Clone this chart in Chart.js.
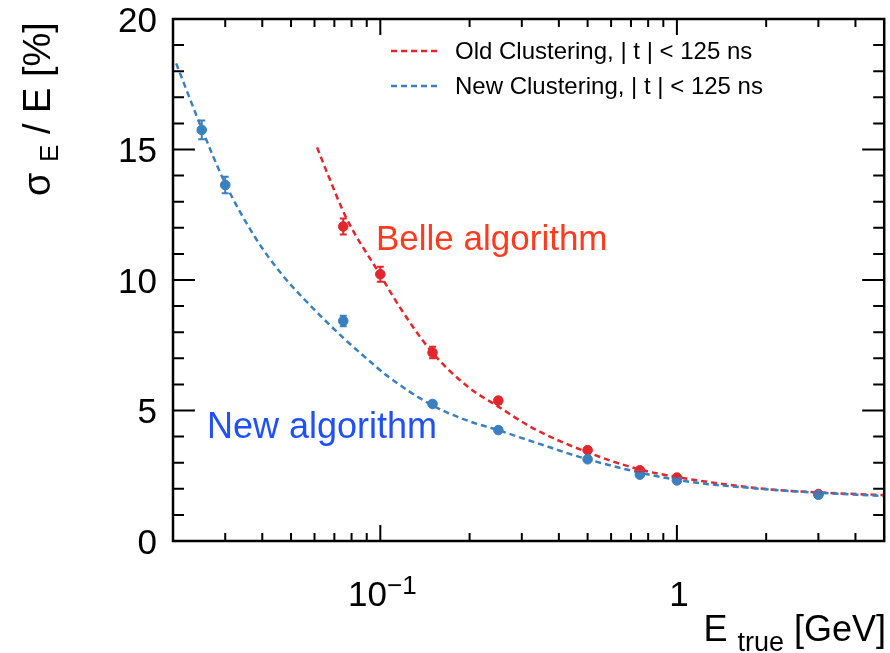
<!DOCTYPE html>
<html><head><meta charset="utf-8">
<script src="https://cdn.jsdelivr.net/npm/chart.js@4.4.1/dist/chart.umd.min.js"></script>
<style>html,body{margin:0;padding:0;background:#fff}#wrap{width:890px;height:653px;position:relative}</style>
</head><body>
<div id="wrap"><canvas id="c"></canvas></div>
<script>
// ---- data ----
const newEnergy = [0.025, 0.03, 0.075, 0.15, 0.25, 0.5, 0.75, 1, 3];
const newRes    = [15.75, 13.64, 8.43, 5.25, 4.25, 3.13, 2.54, 2.32, 1.77];
const newErr    = [0.36, 0.32, 0.2, 0.1, 0.08, 0.06, 0.06, 0.05, 0.05];

const oldEnergy = [0.075, 0.1, 0.15, 0.25, 0.5, 0.75, 1, 3];
const oldRes    = [12.05, 10.22, 7.22, 5.38, 3.48, 2.71, 2.43, 1.8];
const oldErr    = [0.31, 0.29, 0.22, 0.12, 0.08, 0.07, 0.06, 0.05];

// fitted curves
const newFitE   = [0.0205, 0.025, 0.03, 0.038, 0.0467, 0.0589, 0.0743, 0.0912, 0.1066, 0.149, 0.198, 0.243, 0.34, 0.5, 0.98, 2, 3, 5];
const newFitRes = [18.3, 15.8, 13.7, 11.6, 10.2, 8.95, 7.83, 6.93, 6.29, 5.21, 4.6, 4.29, 3.74, 3.13, 2.36, 1.98, 1.85, 1.72];
const oldFitE   = [0.0612, 0.067, 0.0764, 0.1, 0.118, 0.149, 0.198, 0.25, 0.33, 0.527, 0.75, 1, 2, 3, 5];
const oldFitRes = [15.08, 13.96, 12.43, 10.19, 8.85, 7.25, 5.9, 5.15, 4.3, 3.3, 2.74, 2.45, 1.99, 1.86, 1.76];

const xTickValues = [0.1, 1];
const xTickBase   = ['10', '1'];
const xTickExp    = ['\u22121', ''];
const yTickValues = [0, 5, 10, 15, 20];
const legendLabels = ['Old Clustering, | t | < 125 ns', 'New Clustering, | t | < 125 ns'];
const annotations = ['Belle algorithm', 'New algorithm'];

const RED = '#e4262c', BLUE = '#3a80c1';
const FONT = '"Liberation Sans", Arial, Helvetica, sans-serif';

const pts = (xs, ys) => xs.map((x, i) => ({x, y: ys[i]}));

const overlay = {
  id: 'overlay',
  afterDatasetsDraw(chart) {
    const ctx = chart.ctx, ys = chart.scales.y;
    const sets = [[1, oldRes, oldErr, RED], [0, newRes, newErr, BLUE]];
    ctx.save();
    for (const [di, vals, errs, col] of sets) {
      const meta = chart.getDatasetMeta(di);
      ctx.strokeStyle = col; ctx.lineWidth = 2;
      meta.data.forEach((p, i) => {
        const y1 = ys.getPixelForValue(vals[i] + errs[i]);
        const y2 = ys.getPixelForValue(vals[i] - errs[i]);
        ctx.beginPath();
        ctx.moveTo(p.x, y1); ctx.lineTo(p.x, y2);
        ctx.moveTo(p.x - 3.5, y1); ctx.lineTo(p.x + 3.5, y1);
        ctx.moveTo(p.x - 3.5, y2); ctx.lineTo(p.x + 3.5, y2);
        ctx.stroke();
      });
    }
    ctx.restore();
  },
  afterDraw(chart) {
    const ctx = chart.ctx, a = chart.chartArea;
    const xs = chart.scales.x, ys = chart.scales.y;
    ctx.save();
    ctx.strokeStyle = '#000'; ctx.lineWidth = 2.5;
    ctx.strokeRect(a.left, a.top, a.right - a.left, a.bottom - a.top);
    ctx.lineWidth = 2;
    // y ticks
    for (let v = 1; v < 20; v++) {
      const y = ys.getPixelForValue(v);
      const len = v % 5 === 0 ? 22 : 11;
      ctx.beginPath();
      ctx.moveTo(a.left, y); ctx.lineTo(a.left + len, y);
      ctx.moveTo(a.right, y); ctx.lineTo(a.right - len, y);
      ctx.stroke();
    }
    // x ticks
    for (let k = -2; k <= 0; k++) {
      for (let m = 1; m <= 9; m++) {
        const v = m * Math.pow(10, k);
        if (v <= xs.min * 1.0001 || v >= xs.max * 0.9999) continue;
        const x = xs.getPixelForValue(v);
        const len = m === 1 ? 16 : 8;
        ctx.beginPath();
        ctx.moveTo(x, a.bottom); ctx.lineTo(x, a.bottom - len);
        ctx.moveTo(x, a.top); ctx.lineTo(x, a.top + len);
        ctx.stroke();
      }
    }
    ctx.fillStyle = '#000';
    // y tick labels
    ctx.font = '35px ' + FONT; ctx.textAlign = 'right'; ctx.textBaseline = 'alphabetic';
    yTickValues.forEach(v => ctx.fillText(String(v), a.left - 16, ys.getPixelForValue(v) + 12.5));
    // x tick labels
    xTickValues.forEach((v, i) => {
      const x = xs.getPixelForValue(v) + 2;
      ctx.font = '35px ' + FONT;
      const wb = ctx.measureText(xTickBase[i]).width;
      ctx.font = '26px ' + FONT;
      const we = xTickExp[i] ? ctx.measureText(xTickExp[i]).width : 0;
      const x0 = x - (wb + we) / 2;
      ctx.textAlign = 'left';
      ctx.font = '35px ' + FONT;
      ctx.fillText(xTickBase[i], x0, 606);
      if (we) { ctx.font = '26px ' + FONT; ctx.fillText(xTickExp[i], x0 + wb, 594); }
    });
    // x title: E_true [GeV]
    {
      ctx.font = '36px ' + FONT; const wE = ctx.measureText('E ').width; const wG = ctx.measureText(' [GeV]').width;
      ctx.font = '27px ' + FONT; const wt = ctx.measureText('true').width;
      let x = 886 - (wE + wt + wG);
      ctx.textAlign = 'left';
      ctx.font = '36px ' + FONT; ctx.fillText('E ', x, 641); x += wE;
      ctx.font = '27px ' + FONT; ctx.fillText('true', x, 651); x += wt;
      ctx.font = '36px ' + FONT; ctx.fillText(' [GeV]', x, 641);
    }
    // y title: sigma_E / E [%]
    {
      ctx.save();
      ctx.translate(50, 196);
      ctx.rotate(-Math.PI / 2);
      ctx.textAlign = 'left';
      let x = 0;
      ctx.font = '38px ' + FONT; ctx.fillText('\u03c3', x, 0); x += ctx.measureText('\u03c3 ').width;
      ctx.font = '26px ' + FONT; ctx.fillText('E', x, 8); x += ctx.measureText('E').width;
      ctx.font = '38px ' + FONT; ctx.fillText(' / E [%]', x, 0);
      ctx.restore();
    }
    // legend
    const cols = [RED, BLUE], ly = [51, 86];
    legendLabels.forEach((t, i) => {
      ctx.strokeStyle = cols[i]; ctx.lineWidth = 2.5; ctx.setLineDash([6, 4]);
      ctx.beginPath(); ctx.moveTo(391, ly[i]); ctx.lineTo(441, ly[i]); ctx.stroke();
      ctx.setLineDash([]);
      ctx.fillStyle = '#000'; ctx.font = '24px ' + FONT; ctx.textAlign = 'left'; ctx.textBaseline = 'middle';
      ctx.fillText(t, 455, ly[i] + 1);
    });
    // annotations
    ctx.textBaseline = 'alphabetic'; ctx.textAlign = 'left';
    ctx.font = '35px ' + FONT; ctx.fillStyle = '#ff3a1f'; ctx.fillText(annotations[0], 376, 250);
    ctx.font = '36px ' + FONT; ctx.fillStyle = '#1f50ff'; ctx.fillText(annotations[1], 207, 438);
    ctx.restore();
  }
};

new Chart(document.getElementById('c'), {
  type: 'scatter',
  data: {
    datasets: [
      { label: 'New points', data: pts(newEnergy, newRes), backgroundColor: BLUE, borderColor: BLUE,
        pointRadius: 4.8, pointHoverRadius: 4.8, showLine: false, order: 0 },
      { label: 'Old points', data: pts(oldEnergy, oldRes), backgroundColor: RED, borderColor: RED,
        pointRadius: 4.8, pointHoverRadius: 4.8, showLine: false, order: 1 },
      { label: 'New fit', data: pts(newFitE, newFitRes), borderColor: BLUE, borderWidth: 2.5,
        borderDash: [6, 4], pointRadius: 0, showLine: true, cubicInterpolationMode: 'monotone', order: 2 },
      { label: 'Old fit', data: pts(oldFitE, oldFitRes), borderColor: RED, borderWidth: 2.5,
        borderDash: [6, 4], pointRadius: 0, showLine: true, cubicInterpolationMode: 'monotone', order: 3 }
    ]
  },
  options: {
    responsive: true, maintainAspectRatio: false, animation: false,
    layout: { padding: { left: 0, right: 5, top: 19, bottom: 0 } },
    plugins: { legend: { display: false }, tooltip: { enabled: false } },
    scales: {
      x: { type: 'logarithmic', min: 0.02, max: 5,
           ticks: { display: false }, grid: { display: false }, border: { display: false },
           afterFit: s => { s.height = 112; } },
      y: { type: 'linear', min: 0, max: 20,
           ticks: { display: false }, grid: { display: false }, border: { display: false },
           afterFit: s => { s.width = 173; } }
    }
  },
  plugins: [overlay]
});
</script>
</body></html>
